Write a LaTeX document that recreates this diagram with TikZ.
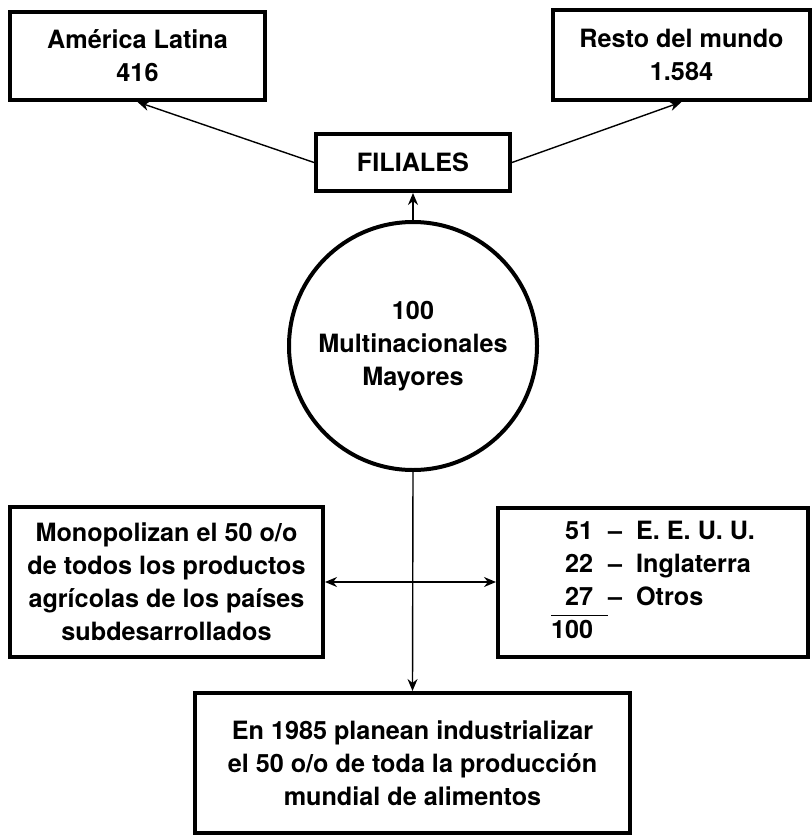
\documentclass[tikz,border=0pt]{standalone}
\usepackage{fontspec}
\setmainfont{TeX Gyre Heros}
\usetikzlibrary{arrows.meta}

\begin{document}
\begin{tikzpicture}[x = 0.5pt, y = -0.5pt,
  box/.style = {draw = black, line width = 2pt, align = center, inner sep = 0pt,
    font = \fontsize{12.6}{16.5}\selectfont\bfseries},
  link/.style = {draw = black, line width = 0.7pt, -{Stealth[length = 6pt, width = 5pt]}}]
\useasboundingbox (0,0) rectangle (812,835);
%Top boxes
\node[box, minimum width = 127.5pt, minimum height = 44pt] (amer) at (137.5,56) {América Latina\\416};
\node[box, minimum width = 128.5pt, minimum height = 45pt] (resto) at (681.5,55) {Resto del mundo\\1.584};
\node[box, minimum width = 97pt, minimum height = 28.5pt] (fil) at (413,162.5) {FILIALES};
%Centre
\node[box, circle, minimum size = 124pt] (circ) at (413,346) {100\\Multinacionales\\Mayores};
%Side boxes
\node[box, minimum width = 156.5pt, minimum height = 75pt] (mono) at (166.5,582)
  {Monopolizan el 50 o/o\\de todos los productos\\agrícolas de los países\\subdesarrollados};
\node[box, minimum width = 155pt, minimum height = 74.5pt] (pais) at (653,582)
  {\begin{tabular}{@{}r@{\hspace{7.5pt}}c@{\hspace{7pt}}l@{}}
   51 & -- & E. E. U. U.\\
   22 & -- & Inglaterra\\
   27 & -- & Otros\\ \cline{1-1}
   100 & & \\
   \end{tabular}};
%Bottom box
\node[box, minimum width = 217.5pt, minimum height = 70pt] (plan) at (412.5,763)
  {En 1985 planean industrializar\\el 50 o/o de toda la producción\\mundial de alimentos};
%Arrows
\draw[link] (fil.west) -- (amer.south);
\draw[link] (fil.east) -- (resto.south);
\draw[link] (circ.north) -- (fil.south);
\draw[link] (circ.south) -- (plan.north);
\draw[link, {Stealth[length = 6pt, width = 5pt]}-{Stealth[length = 6pt, width = 5pt]}] (mono.east) -- (pais.west);
\end{tikzpicture}
\end{document}
